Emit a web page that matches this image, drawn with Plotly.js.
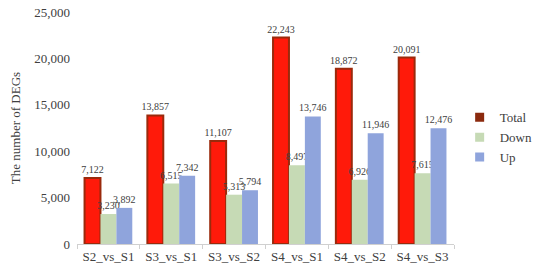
<!DOCTYPE html>
<html>
<head>
<meta charset="utf-8">
<script src="https://cdn.plot.ly/plotly-3.0.1.min.js"></script>
<style>
  html, body { margin: 0; padding: 0; background: #fff; }
  #chart { width: 550px; height: 273px; }
</style>
</head>
<body>
<div id="chart"></div>
<script>
const categories = ["S2_vs_S1", "S3_vs_S1", "S3_vs_S2", "S4_vs_S1", "S4_vs_S2", "S4_vs_S3"];
const totalDegs = [7122, 13857, 11107, 22243, 18872, 20091];
const downDegs = [3230, 6515, 5313, 8497, 6926, 7615];
const upDegs = [3892, 7342, 5794, 13746, 11946, 12476];

const serif = "'Liberation Serif', 'Times New Roman', Times, serif";

function fmt(v) {
    return v.toLocaleString("en-US");
}

function series(name, values, color, lineColor) {
    return {
        type: "bar",
        name: name,
        x: categories,
        y: values,
        text: values.map(fmt),
        textposition: "outside",
        constraintext: "none",
        cliponaxis: false,
        textfont: { family: serif, size: 10, color: "#404040" },
        marker: { color: color, line: { color: lineColor || color, width: lineColor ? 2 : 0 } },
        showlegend: false,
        hoverinfo: "x+y"
    };
}

// small square swatches for the legend
function legendItem(name, color) {
    return {
        type: "scatter",
        mode: "markers",
        name: name,
        x: [null],
        y: [null],
        marker: { symbol: "square", size: 9, color: color },
        showlegend: true
    };
}

const data = [
    series("Total", totalDegs, "#ff1a0a", "#9a2a0c"),
    series("Down", downDegs, "#c6dab5", null),
    series("Up", upDegs, "#8fa4dc", null),
    legendItem("Total", "#8b2a0e"),
    legendItem("Down", "#c6dab5"),
    legendItem("Up", "#8fa4dc")
];

const layout = {
    width: 550,
    height: 273,
    margin: { l: 77, r: 68, t: 12, b: 29 },
    paper_bgcolor: "#fff",
    plot_bgcolor: "#fff",
    barmode: "group",
    bargap: 0.24,
    bargroupgap: 0,
    font: { family: serif, color: "#404040" },
    showlegend: true,
    legend: {
        x: 1.015, xanchor: "left",
        y: 0.46, yanchor: "middle",
        bgcolor: "rgba(0,0,0,0)",
        font: { family: serif, size: 13, color: "#404040" },
        tracegroupgap: 0,
        itemwidth: 30
    },
    xaxis: {
        type: "category",
        showgrid: false,
        showline: true,
        linecolor: "#d0d0d0",
        ticks: "outside",
        tickson: "boundaries",
        ticklen: 4,
        tickcolor: "#d0d0d0",
        tickangle: 0,
        tickfont: { family: serif, size: 13, color: "#404040" }
    },
    yaxis: {
        range: [0, 25000],
        dtick: 5000,
        tickformat: ",d",
        showgrid: false,
        zeroline: false,
        showline: false,
        ticks: "",
        ticklabelstandoff: 6,
        tickfont: { family: serif, size: 13, color: "#404040" },
        title: { text: "The number of DEGs", font: { family: serif, size: 13, color: "#404040" }, standoff: 10 }
    }
};

Plotly.newPlot("chart", data, layout, { displayModeBar: false, staticPlot: true });
</script>
</body>
</html>
